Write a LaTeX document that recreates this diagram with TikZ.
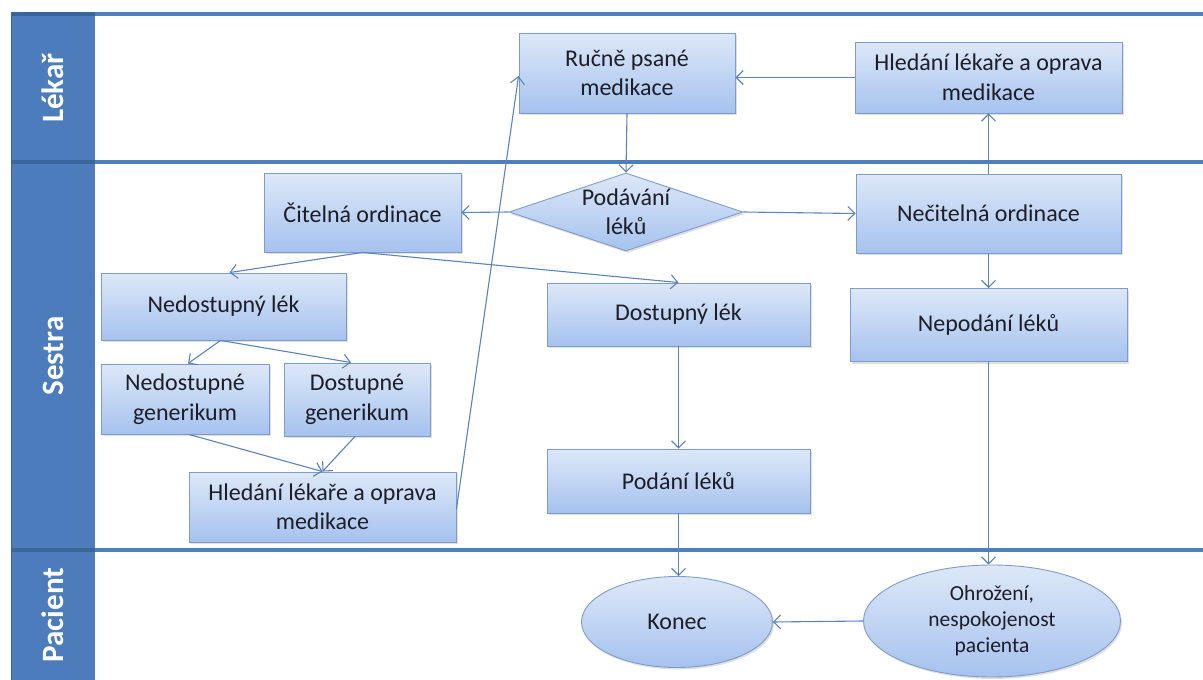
\documentclass[tikz,border=0pt]{standalone}
\usepackage{fontspec}
\setmainfont{Carlito}
\usetikzlibrary{arrows.meta,shapes.geometric,shadows}
\definecolor{laneblue}{HTML}{4F7EBA}
\definecolor{lanedark}{HTML}{3A6598}
\definecolor{lanecol}{HTML}{4C7CBB}
\definecolor{boxtop}{HTML}{DDE8F8}
\definecolor{boxbot}{HTML}{A5C2EE}
\definecolor{boxedge}{HTML}{7F9CC8}
\definecolor{conn}{HTML}{5A84BA}
\definecolor{txtc}{HTML}{1E1E28}
\begin{document}
\begin{tikzpicture}[x=1pt,y=-1pt,
  procbox/.style={rectangle, draw=boxedge, line width=0.9pt, top color=boxtop, bottom color=boxbot,
    drop shadow={shadow xshift=1.5pt, shadow yshift=-2pt, opacity=0.25},
    inner sep=0pt, align=center, text=txtc, font=\fontsize{24}{29.5}\selectfont},
  decbox/.style={diamond, draw=boxedge, line width=0.9pt, top color=boxtop, bottom color=boxbot,
    drop shadow={shadow xshift=1.5pt, shadow yshift=-2pt, opacity=0.25}, inner sep=0pt},
  endbox/.style={ellipse, draw=boxedge, line width=0.9pt, top color=boxtop, bottom color=boxbot,
    drop shadow={shadow xshift=1.5pt, shadow yshift=-2pt, opacity=0.25}, inner sep=0pt},
  intext/.style={align=center, text=txtc, inner sep=0pt, font=\fontsize{24}{29.5}\selectfont},
  lanelabel/.style={rotate=90, text=white, font=\fontsize{31}{36}\selectfont\bfseries, inner sep=0pt},
  arr/.style={draw=conn, line width=1.1pt, -{Straight Barb[length=7pt,width=14pt,line width=1.1pt]}}
]
\useasboundingbox (0,0) rectangle (1203,680);
\fill[white] (0,0) rectangle (1203,680);
% swimlanes
\fill[lanecol] (11,14) rectangle (95,680);
\draw[lanedark, line width=1pt] (11.5,14) -- (11.5,680);
\draw[laneblue, line width=4pt] (11,14) -- (1203,14);
\draw[laneblue, line width=4pt] (95,162) -- (1203,162);
\draw[laneblue, line width=4pt] (95,550) -- (1203,550);
\draw[lanedark, line width=4pt] (11,14) -- (95,14);
\draw[lanedark, line width=4pt] (11,162) -- (95,162);
\draw[lanedark, line width=4pt] (11,550) -- (95,550);
\node[lanelabel] (lLekar) at (53,88) {Lékař};
\node[lanelabel] (lSestra) at (53,356) {Sestra};
\node[lanelabel] (lPacient) at (53,615) {Pacient};
% nodes
\node[procbox, minimum width=216pt, minimum height=80pt] (ruc) at (627,73) {Ručně psané\\medikace};
\node[procbox, minimum width=267pt, minimum height=71pt] (hl1) at (988.5,77.5) {Hledání lékaře a oprava\\medikace};
\node[decbox, minimum width=234pt, minimum height=78pt] (pod) at (626,212) {};
\node[intext] (podT) at (pod) {Podávání\\léků};
\node[procbox, minimum width=197pt, minimum height=79pt] (cit) at (362.5,212.5) {Čitelná ordinace};
\node[procbox, minimum width=265pt, minimum height=79pt] (nec) at (988.5,213.5) {Nečitelná ordinace};
\node[procbox, minimum width=245pt, minimum height=67pt] (nedl) at (223.5,306.5) {Nedostupný lék};
\node[procbox, minimum width=263pt, minimum height=63pt] (dosl) at (678.5,314.5) {Dostupný lék};
\node[procbox, minimum width=277pt, minimum height=73pt] (nep) at (988.5,325) {Nepodání léků};
\node[procbox, minimum width=168pt, minimum height=70pt] (nedg) at (185,399) {Nedostupné\\generikum};
\node[procbox, minimum width=146pt, minimum height=73pt] (dosg) at (357,399.5) {Dostupné\\generikum};
\node[procbox, minimum width=267pt, minimum height=70pt] (hl2) at (322.5,507) {Hledání lékaře a oprava\\medikace};
\node[procbox, minimum width=263pt, minimum height=64pt] (podl) at (678.5,481) {Podání léků};
\node[endbox, minimum width=191pt, minimum height=91pt] (kon) at (677,622) {};
\node[intext] (konT) at (kon) {Konec};
\node[endbox, minimum width=257pt, minimum height=112pt] (ohr) at (992,621) {};
\node[intext, font=\fontsize{21.5}{26}\selectfont] (ohrT) at (ohr) {Ohrožení,\\nespokojenost\\pacienta};
% connectors
\draw[arr] (ruc.south) -- (pod.north);
\draw[arr] (pod.west) -- (cit.east);
\draw[arr] (pod.east) -- (nec.west);
\draw[arr] (nec.north) -- (hl1.south);
\draw[arr] (hl1.west) -- (hl1.west -| ruc.east);
\draw[arr] (cit.south) -- ([xshift=6pt]nedl.north);
\draw[arr] (cit.south) -- (dosl.north);
\draw[arr] (nec.south) -- (nep.north);
\draw[arr] ([xshift=-3pt]nedl.south) -- ([xshift=3pt]nedg.north);
\draw[arr] ([xshift=-3pt]nedl.south) -- ([xshift=-6pt]dosg.north);
\draw[arr] ([xshift=4pt]nedg.south) -- (hl2.north);
\draw[arr] ([xshift=-2pt]dosg.south) -- (hl2.north);
\draw[arr] ([yshift=-2pt]hl2.east) -- ([yshift=-3pt]ruc.west);
\draw[arr] (dosl.south) -- (podl.north);
\draw[arr] (podl.south) -- (podl.south |- kon.north);
\draw[arr] (nep.south) -- (nep.south |- ohr.north);
\draw[arr] (ohr.west) -- (kon.east);
\end{tikzpicture}
\end{document}
